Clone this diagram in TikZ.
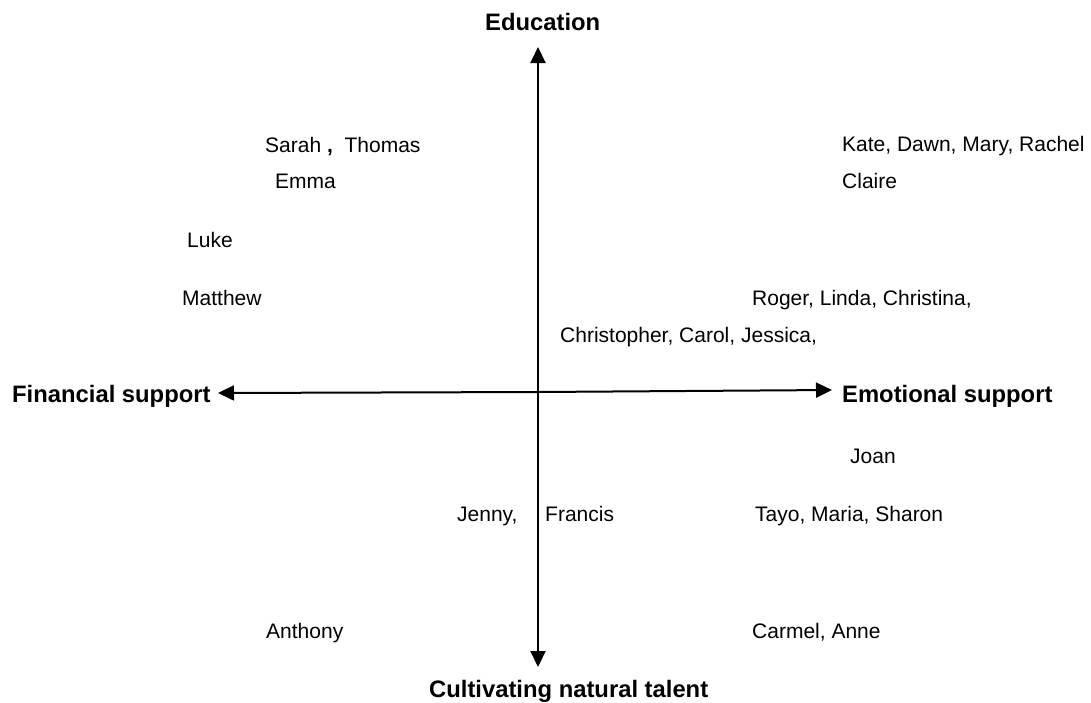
\documentclass[tikz,border=0pt]{standalone}
\usepackage{fontspec}
\setmainfont{Liberation Sans}
\usetikzlibrary{arrows.meta}
\begin{document}
\begin{tikzpicture}[x=1pt,y=-1pt,
  lbl/.style={anchor=base west,inner sep=0pt,font=\fontsize{21}{25}\selectfont},
  axlbl/.style={anchor=base west,inner sep=0pt,font=\fontsize{23.8}{28}\selectfont\bfseries},
  axis/.style={line width=2pt,-{Triangle[length=16pt,width=15pt]}}]
\useasboundingbox (0,0) rectangle (1091,702);
\coordinate (c) at (538,392);
\coordinate (top) at (538,47);
\coordinate (bot) at (538,667);
\coordinate (lft) at (218,393);
\coordinate (rgt) at (832,390);
\draw[axis] (c) -- (top);
\draw[axis] (c) -- (bot);
\draw[axis] (c) -- (lft);
\draw[axis] (c) -- (rgt);
\node[axlbl] (edu) at (485,30) {Education};
\node[axlbl] (fin) at (12,402) {Financial support};
\node[axlbl] (emo) at (842,402) {Emotional support};
\node[axlbl] (cul) at (429,697) {Cultivating natural talent};
\node[lbl] (sarah) at (265,152) {Sarah {\bfseries,}\ \ Thomas};
\node[lbl] (emma) at (275,188) {Emma};
\node[lbl] (luke) at (187,247) {Luke};
\node[lbl] (matthew) at (182,305) {Matthew};
\node[lbl] (kate) at (842,151) {Kate, Dawn, Mary, Rachel};
\node[lbl] (claire) at (842,188) {Claire};
\node[lbl] (roger) at (752,305) {Roger, Linda, Christina,};
\node[lbl] (chris) at (560,342) {Christopher, Carol, Jessica,};
\node[lbl] (joan) at (850,463) {Joan};
\node[lbl] (jenny) at (457,521) {Jenny,};
\node[lbl] (francis) at (545,521) {Francis};
\node[lbl] (tayo) at (755,521) {Tayo, Maria, Sharon};
\node[lbl] (anthony) at (266,638) {Anthony};
\node[lbl] (carmel) at (752,638) {Carmel, Anne};
\end{tikzpicture}
\end{document}
